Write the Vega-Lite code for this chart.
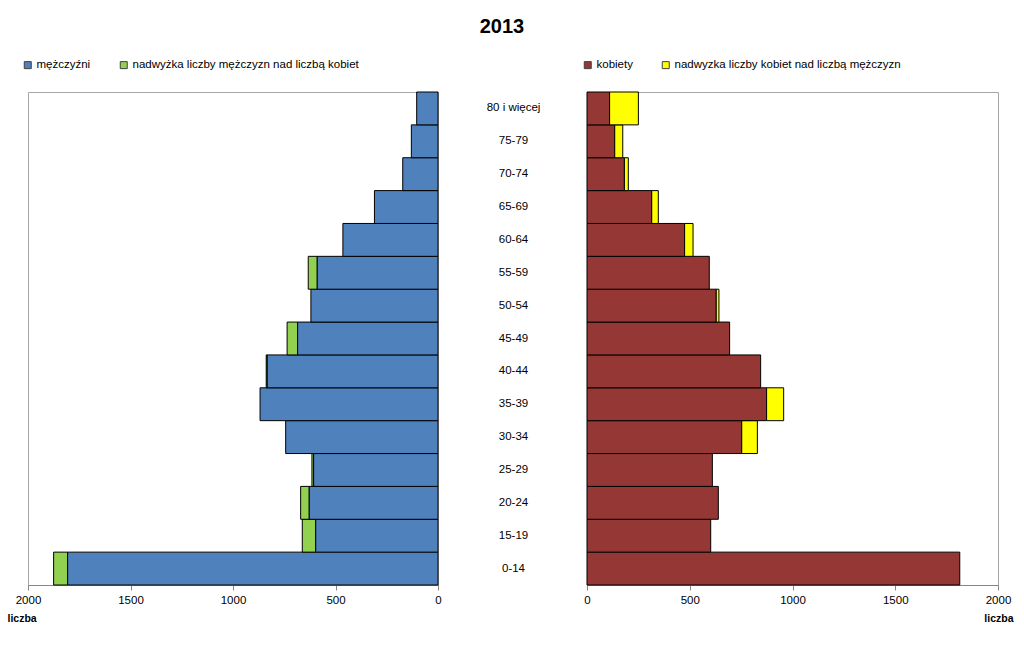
{
  "$schema": "https://vega.github.io/schema/vega-lite/v6.json",
  "padding": {"left": 6, "top": 16, "right": 5, "bottom": 5},
  "background": "white",
  "title": {"text": "2013", "fontSize": 20, "fontWeight": "bold", "font": "Liberation Sans", "color": "black", "anchor": "middle", "offset": 22, "dx": -8},
  "config": {
    "font": "Liberation Sans",
    "view": {"stroke": "#A6A6A6", "strokeWidth": 1},
    "axis": {"domainColor": "#868686", "tickColor": "#868686", "tickSize": 5, "labelPadding": 4, "labelFontSize": 11.5, "labelColor": "black", "grid": false, "titleFontSize": 10.5, "titleFontWeight": "bold", "titleColor": "black", "labelFont": "Liberation Sans", "titleFont": "Liberation Sans"},
    "legend": {"labelFont": "Liberation Sans", "labelFontSize": 11.5, "labelColor": "black", "labelLimit": 0}
  },
  "datasets": {
    "pop": [
      {"wiek": "0-14", "mężczyźni": 1807, "nadwyżka liczby mężczyzn nad liczbą kobiet": 68, "kobiety": 1814, "nadwyzka liczby kobiet nad liczbą mężczyzn": 0},
      {"wiek": "15-19", "mężczyźni": 597, "nadwyżka liczby mężczyzn nad liczbą kobiet": 65, "kobiety": 602, "nadwyzka liczby kobiet nad liczbą mężczyzn": 0},
      {"wiek": "20-24", "mężczyźni": 629, "nadwyżka liczby mężczyzn nad liczbą kobiet": 41, "kobiety": 639, "nadwyzka liczby kobiet nad liczbą mężczyzn": 0},
      {"wiek": "25-29", "mężczyźni": 607, "nadwyżka liczby mężczyzn nad liczbą kobiet": 8, "kobiety": 610, "nadwyzka liczby kobiet nad liczbą mężczyzn": 0},
      {"wiek": "30-34", "mężczyźni": 743, "nadwyżka liczby mężczyzn nad liczbą kobiet": 0, "kobiety": 753, "nadwyzka liczby kobiet nad liczbą mężczyzn": 76},
      {"wiek": "35-39", "mężczyźni": 868, "nadwyżka liczby mężczyzn nad liczbą kobiet": 0, "kobiety": 874, "nadwyzka liczby kobiet nad liczbą mężczyzn": 83},
      {"wiek": "40-44", "mężczyźni": 834, "nadwyżka liczby mężczyzn nad liczbą kobiet": 4, "kobiety": 845, "nadwyzka liczby kobiet nad liczbą mężczyzn": 0},
      {"wiek": "45-49", "mężczyźni": 685, "nadwyżka liczby mężczyzn nad liczbą kobiet": 51, "kobiety": 694, "nadwyzka liczby kobiet nad liczbą mężczyzn": 0},
      {"wiek": "50-54", "mężczyźni": 620, "nadwyżka liczby mężczyzn nad liczbą kobiet": 0, "kobiety": 629, "nadwyzka liczby kobiet nad liczbą mężczyzn": 13},
      {"wiek": "55-59", "mężczyźni": 590, "nadwyżka liczby mężczyzn nad liczbą kobiet": 43, "kobiety": 595, "nadwyzka liczby kobiet nad liczbą mężczyzn": 0},
      {"wiek": "60-64", "mężczyźni": 464, "nadwyżka liczby mężczyzn nad liczbą kobiet": 0, "kobiety": 475, "nadwyzka liczby kobiet nad liczbą mężczyzn": 41},
      {"wiek": "65-69", "mężczyźni": 310, "nadwyżka liczby mężczyzn nad liczbą kobiet": 0, "kobiety": 315, "nadwyzka liczby kobiet nad liczbą mężczyzn": 32},
      {"wiek": "70-74", "mężczyźni": 172, "nadwyżka liczby mężczyzn nad liczbą kobiet": 0, "kobiety": 182, "nadwyzka liczby kobiet nad liczbą mężczyzn": 19},
      {"wiek": "75-79", "mężczyźni": 130, "nadwyżka liczby mężczyzn nad liczbą kobiet": 0, "kobiety": 135, "nadwyzka liczby kobiet nad liczbą mężczyzn": 39},
      {"wiek": "80 i więcej", "mężczyźni": 104, "nadwyżka liczby mężczyzn nad liczbą kobiet": 0, "kobiety": 110, "nadwyzka liczby kobiet nad liczbą mężczyzn": 140}
    ]
  },
  "spacing": 149,
  "bounds": "flush",
  "hconcat": [
    {
      "width": 410,
      "height": 493,
      "data": {"name": "pop"},
      "transform": [
        {"fold": ["mężczyźni", "nadwyżka liczby mężczyzn nad liczbą kobiet"], "as": ["seria", "liczba"]},
        {"filter": "datum.liczba > 0"}
      ],
      "mark": {"type": "bar", "stroke": "black", "strokeWidth": 1},
      "encoding": {
        "y": {"field": "wiek", "type": "nominal",
          "sort": ["80 i więcej", "75-79", "70-74", "65-69", "60-64", "55-59", "50-54", "45-49", "40-44", "35-39", "30-34", "25-29", "20-24", "15-19", "0-14"],
          "scale": {"paddingInner": 0, "paddingOuter": 0}, "axis": null},
        "x": {"field": "liczba", "type": "quantitative", "stack": "zero",
          "scale": {"domain": [0, 2000], "reverse": true, "nice": false},
          "axis": {"values": [0, 500, 1000, 1500, 2000], "format": "d", "labelFlush": false, "title": "liczba", "titleX": -21, "titleY": 28, "titleAlign": "left", "titleBaseline": "top"}},
        "color": {"field": "seria", "type": "nominal",
          "scale": {"domain": ["mężczyźni", "nadwyżka liczby mężczyzn nad liczbą kobiet"], "range": ["#4F81BD", "#92D050"]},
          "legend": {"orient": "none", "legendX": -6, "legendY": -33, "direction": "horizontal", "title": null, "symbolType": "square", "symbolSize": 49, "symbolStrokeColor": "#404040", "symbolStrokeWidth": 1, "labelOffset": 3, "columnPadding": 27, "padding": 0, "labelLimit": 0}}
      }
    },
    {
      "width": 411,
      "height": 493,
      "data": {"name": "pop"},
      "transform": [
        {"fold": ["kobiety", "nadwyzka liczby kobiet nad liczbą mężczyzn"], "as": ["seria", "liczba"]},
        {"filter": "datum.liczba > 0"}
      ],
      "mark": {"type": "bar", "stroke": "black", "strokeWidth": 1},
      "encoding": {
        "y": {"field": "wiek", "type": "nominal",
          "sort": ["80 i więcej", "75-79", "70-74", "65-69", "60-64", "55-59", "50-54", "45-49", "40-44", "35-39", "30-34", "25-29", "20-24", "15-19", "0-14"],
          "scale": {"paddingInner": 0, "paddingOuter": 0},
          "axis": {"orient": "left", "ticks": false, "tickSize": 0, "domain": false, "labelAlign": "center", "labelBaseline": "middle", "labelPadding": 74, "labelFontSize": 11.5, "title": null}},
        "x": {"field": "liczba", "type": "quantitative", "stack": "zero",
          "scale": {"domain": [0, 2000], "nice": false},
          "axis": {"values": [0, 500, 1000, 1500, 2000], "format": "d", "labelFlush": false, "title": "liczba", "titleX": 426, "titleY": 28, "titleAlign": "right", "titleBaseline": "top"}},
        "color": {"field": "seria", "type": "nominal",
          "scale": {"domain": ["kobiety", "nadwyzka liczby kobiet nad liczbą mężczyzn"], "range": ["#953735", "#FFFF00"]},
          "legend": {"orient": "none", "legendX": -5, "legendY": -33, "direction": "horizontal", "title": null, "symbolType": "square", "symbolSize": 49, "symbolStrokeColor": "#404040", "symbolStrokeWidth": 1, "labelOffset": 3, "columnPadding": 27, "padding": 0, "labelLimit": 0}}
      }
    }
  ],
  "resolve": {"scale": {"color": "independent", "x": "independent", "y": "independent"}}
}
